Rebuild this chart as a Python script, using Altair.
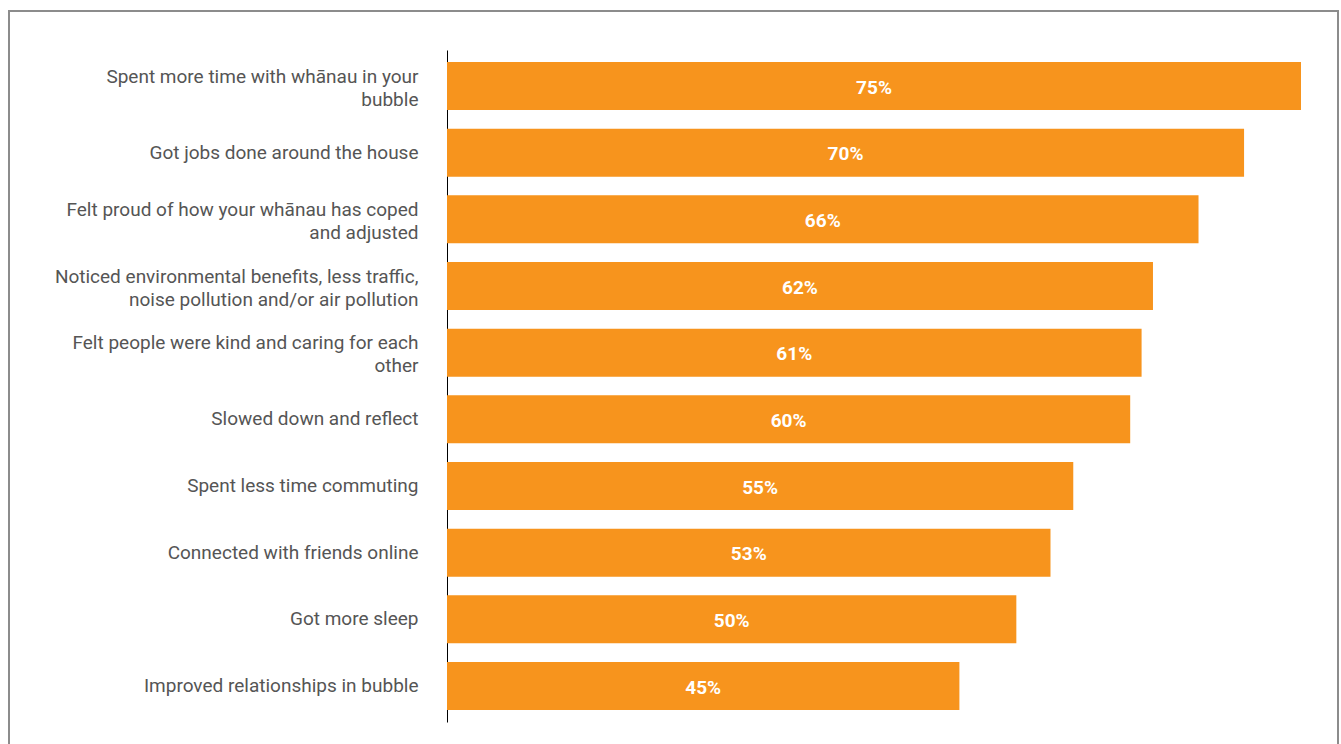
import altair as alt
import pandas as pd

categories = [
    "Spent more time with whānau in your\nbubble",
    "Got jobs done around the house",
    "Felt proud of how your whānau has coped\nand adjusted",
    "Noticed environmental benefits, less traffic,\nnoise pollution and/or air pollution",
    "Felt people were kind and caring for each\nother",
    "Slowed down and reflect",
    "Spent less time commuting",
    "Connected with friends online",
    "Got more sleep",
    "Improved relationships in bubble",
]
values = [75, 70, 66, 62, 61, 60, 55, 53, 50, 45]

df = pd.DataFrame({"cat": categories, "val": values})
df["label"] = df["val"].astype(str) + "%"
df["mid"] = df["val"] / 2

FONT = "Roboto, sans-serif"
ORANGE = "#F7941D"

y_enc = alt.Y(
    "cat:N",
    sort=categories,
    scale=alt.Scale(paddingInner=0.28, paddingOuter=0.18),
    axis=alt.Axis(
        title=None,
        ticks=False,
        domain=True,
        domainColor="#000000",
        domainWidth=1,
        labelFont=FONT,
        labelFontSize=19,
        labelColor="#555555",
        labelPadding=29,
        labelLimit=420,
        labelLineHeight=23,
        labelOffset={
            "condition": {"test": "indexof(datum.label, '\\n') >= 0", "value": -9.5},
            "value": 0,
        },
        labelExpr="split(datum.label, '\\n')",
    ),
)
x_scale = alt.Scale(domain=[0, 75], nice=False, zero=True)

bars = alt.Chart(df).mark_bar(color=ORANGE).encode(
    x=alt.X("val:Q", scale=x_scale, axis=None),
    y=y_enc,
)
texts = alt.Chart(df).mark_text(
    color="white", font=FONT, fontSize=19, fontWeight="bold", baseline="middle", dy=1.5
).encode(
    x=alt.X("mid:Q", scale=x_scale, axis=None),
    y=alt.Y("cat:N", sort=categories),
    text="label:N",
)
frame = alt.Chart(pd.DataFrame({"a": [0]})).mark_rect(
    fill=None, stroke="#8c8c8c", strokeWidth=2
).encode(
    x=alt.value(-438),
    x2=alt.value(891),
    y=alt.value(-39),
    y2=alt.value(740),
)

chart = alt.layer(frame, bars, texts).properties(
    width=854,
    height=672,
    autosize=alt.AutoSizeParams(type="none"),
    padding={"left": 447, "top": 50, "right": 40, "bottom": 22},
    background="white",
).configure_view(stroke=None)

chart.save("out.html", embed_options={"renderer": "svg", "actions": False})
